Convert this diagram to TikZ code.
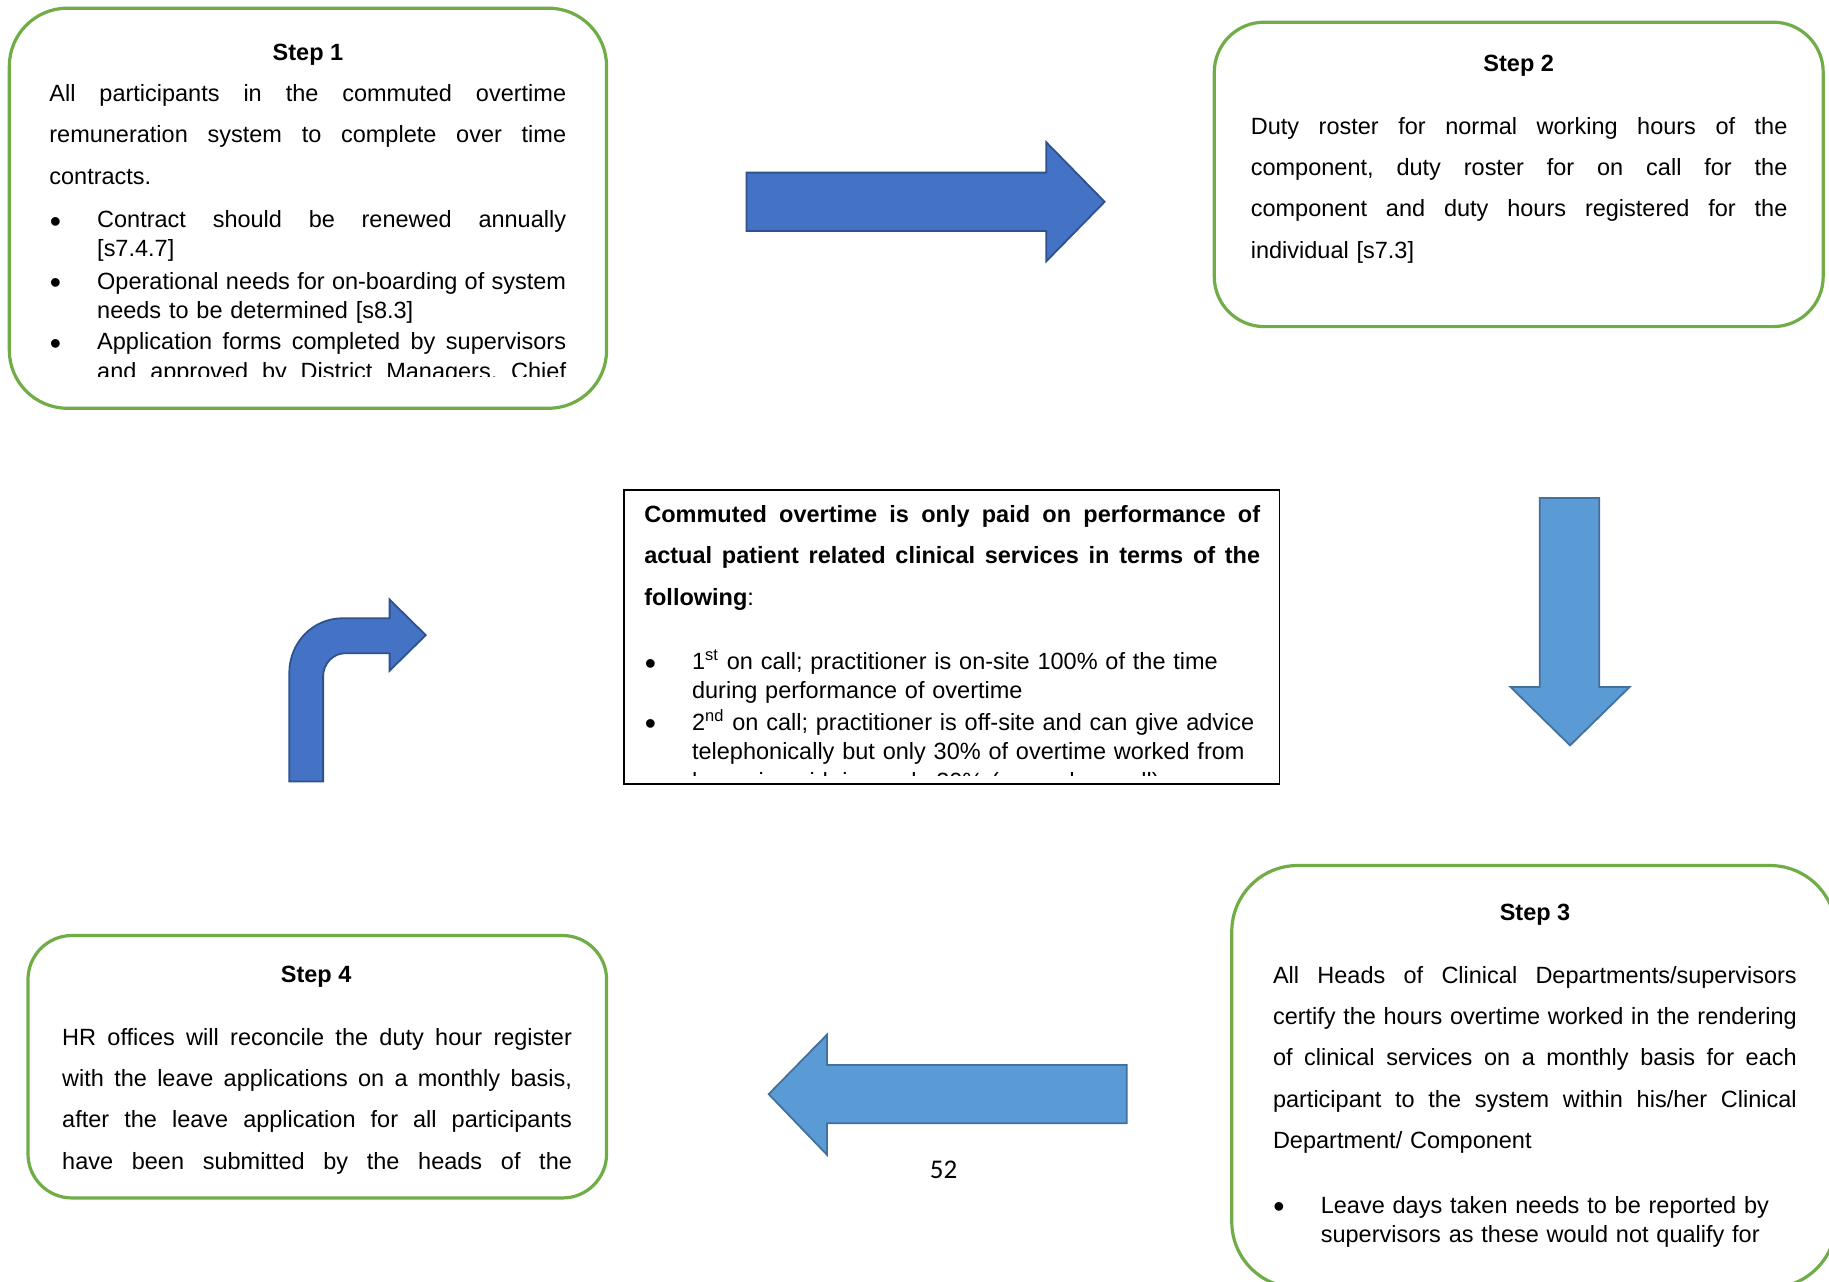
\documentclass[tikz,border=0pt]{standalone}
\usepackage{fontspec}
\setmainfont{Liberation Sans}
\newfontfamily\pagenofont{Carlito}

\definecolor{boxgreen}{HTML}{70AD47}
\definecolor{darkblue}{HTML}{4472C4}
\definecolor{darkblueedge}{HTML}{2F528F}
\definecolor{lightblue}{HTML}{5B9BD5}
\definecolor{lightblueedge}{HTML}{41719C}

% drawing unit
\newlength\dpx
\setlength\dpx{0.5833pt}

% one fully justified line: the words are spread evenly over the line width
\makeatletter
\def\jline#1{\hbox to \linewidth{\jl@scan#1 \@nil}\par}
\def\jl@scan#1 #2\@nil{#1\ifx\relax#2\relax\else\hfill\jl@scan#2\@nil\fi}
\makeatother
% bullet hanging left of the first line of a list item
\newcommand\bmark{\llap{\raisebox{-2.3pt}{\fontsize{16}{16}\selectfont\textbullet}\hspace{31\dpx}}}

\tikzset{
  stepbox/.style={draw=boxgreen, line width=1.6pt, fill=white, inner sep=0pt},
  notebox/.style={draw=black, line width=0.7pt, fill=white, inner sep=0pt},
  steptitle/.style={anchor=base, inner sep=0pt, font=\fontsize{11.75}{14.7}\selectfont\bfseries},
  bodytext/.style={anchor=base west, inner sep=0pt, align=left, font=\fontsize{11.75}{20.65}\selectfont},
  itemtext/.style={anchor=base west, inner sep=0pt, align=left, font=\fontsize{11.75}{14.7}\selectfont},
  darkarrow/.style={fill=darkblue, draw=darkblueedge, line width=0.9pt, line join=miter},
  lightarrow/.style={fill=lightblue, draw=lightblueedge, line width=0.9pt, line join=miter},
}

\begin{document}
\begin{tikzpicture}[x=\dpx, y=-\dpx]
\fill[white] (0,0) rectangle (1568,1099);
\useasboundingbox (0,0) rectangle (1568,1099);

% ---------- Step 1 ----------
\node[stepbox, rounded corners=29pt, minimum width=512\dpx, minimum height=343\dpx] (s1) at (264,178.5) {};
\node[steptitle] (s1title) at (264,52) {Step 1};
\begin{scope}
  \clip (8,7) rectangle (520,323);
  \node[bodytext, text width=443\dpx] (s1body) at (42,87) {%
    \jline{All participants in the commuted overtime}
    \jline{remuneration system to complete over time}
    contracts.};
  \node[itemtext, text width=402\dpx] (s1item1) at (83,195) {%
    \jline{\bmark Contract should be renewed annually}
    [s7.4.7]};
  \node[itemtext, text width=402\dpx] (s1item2) at (83,248) {%
    \jline{\bmark Operational needs for on-boarding of system}
    needs to be determined [s8.3]};
  \node[itemtext, text width=402\dpx] (s1item3) at (83,300) {%
    \jline{\bmark Application forms completed by supervisors}
    \jline{and approved by District Managers, Chief}};
\end{scope}

% ---------- Step 2 ----------
\node[stepbox, rounded corners=25pt, minimum width=522\dpx, minimum height=261\dpx] (s2) at (1302,149.5) {};
\node[steptitle] (s2title) at (1302,61) {Step 2};
\node[bodytext, text width=460\dpx] (s2body) at (1072,115) {%
  \jline{Duty roster for normal working hours of the}
  \jline{component, duty roster for on call for the}
  \jline{component and duty hours registered for the}
  individual [s7.3]};

% ---------- central note ----------
\node[notebox, minimum width=562\dpx, minimum height=252\dpx] (note) at (816,546) {};
\node[bodytext, text width=528\dpx] (notehead) at (552,448) {%
  \jline{\bfseries Commuted overtime is only paid on performance of}
  \jline{\bfseries actual patient related clinical services in terms of the}
  \textbf{following}:};
\begin{scope}
  \clip (535,420) rectangle (1097,665);
  \node[itemtext, text width=500\dpx] (noteitem1) at (593,574) {%
    \bmark 1\textsuperscript{st} on call; practitioner is on-site 100\% of the time\\
    during performance of overtime};
  \node[itemtext, text width=500\dpx] (noteitem2) at (593,626) {%
    \bmark 2\textsuperscript{nd} on call; practitioner is off-site and can give advice\\
    telephonically but only 30\% of overtime worked from\\
    home is paid, i.e. only 30\% (second on call)};
\end{scope}

% ---------- Step 3 ----------
\node[stepbox, rounded corners=33pt, minimum width=518\dpx, minimum height=362\dpx] (s3) at (1315,923) {};
\node[steptitle] (s3title) at (1316,789) {Step 3};
\node[bodytext, text width=449\dpx] (s3body) at (1091,843) {%
  \jline{All Heads of Clinical Departments/supervisors}
  \jline{certify the hours overtime worked in the rendering}
  \jline{of clinical services on a monthly basis for each}
  \jline{participant to the system within his/her Clinical}
  Department/ Component};
\node[itemtext, text width=420\dpx] (s3item) at (1132,1040) {%
  \bmark Leave days taken needs to be reported by\\
  supervisors as these would not qualify for};

% ---------- Step 4 ----------
\node[stepbox, rounded corners=22pt, minimum width=496\dpx, minimum height=225\dpx] (s4) at (272,914.5) {};
\node[steptitle] (s4title) at (271,842) {Step 4};
\node[bodytext, text width=437\dpx] (s4body) at (53,896) {%
  \jline{HR offices will reconcile the duty hour register}
  \jline{with the leave applications on a monthly basis,}
  \jline{after the leave application for all participants}
  \jline{have been submitted by the heads of the}};

% ---------- block arrows ----------
% Step 1 to Step 2
\draw[darkarrow] (640,148) -- (897,148) -- (897,122) -- (947,173) -- (897,224)
  -- (897,198) -- (640,198) -- cycle;
% Step 2 to Step 3
\draw[lightarrow] (1320,427) -- (1371,427) -- (1371,589) -- (1397,589) -- (1346,639)
  -- (1295,589) -- (1320,589) -- cycle;
% Step 3 to Step 4
\draw[lightarrow] (966,913) -- (709,913) -- (709,887) -- (659,938) -- (709,990)
  -- (709,963) -- (966,963) -- cycle;
% bent arrow back to the start
\draw[darkarrow] (248,670) -- (248,577) .. controls (248,551) and (268,530) .. (294,530)
  -- (334,530) -- (334,514) -- (365,544.5) -- (334,575) -- (334,560) -- (296,560)
  .. controls (285.5,560) and (277,569) .. (277,580) -- (277,670) -- cycle;

% page number
\node[inner sep=0pt, font=\pagenofont\fontsize{13.5}{16}\selectfont] (pageno) at (809,1003) {52};
\end{tikzpicture}
\end{document}
